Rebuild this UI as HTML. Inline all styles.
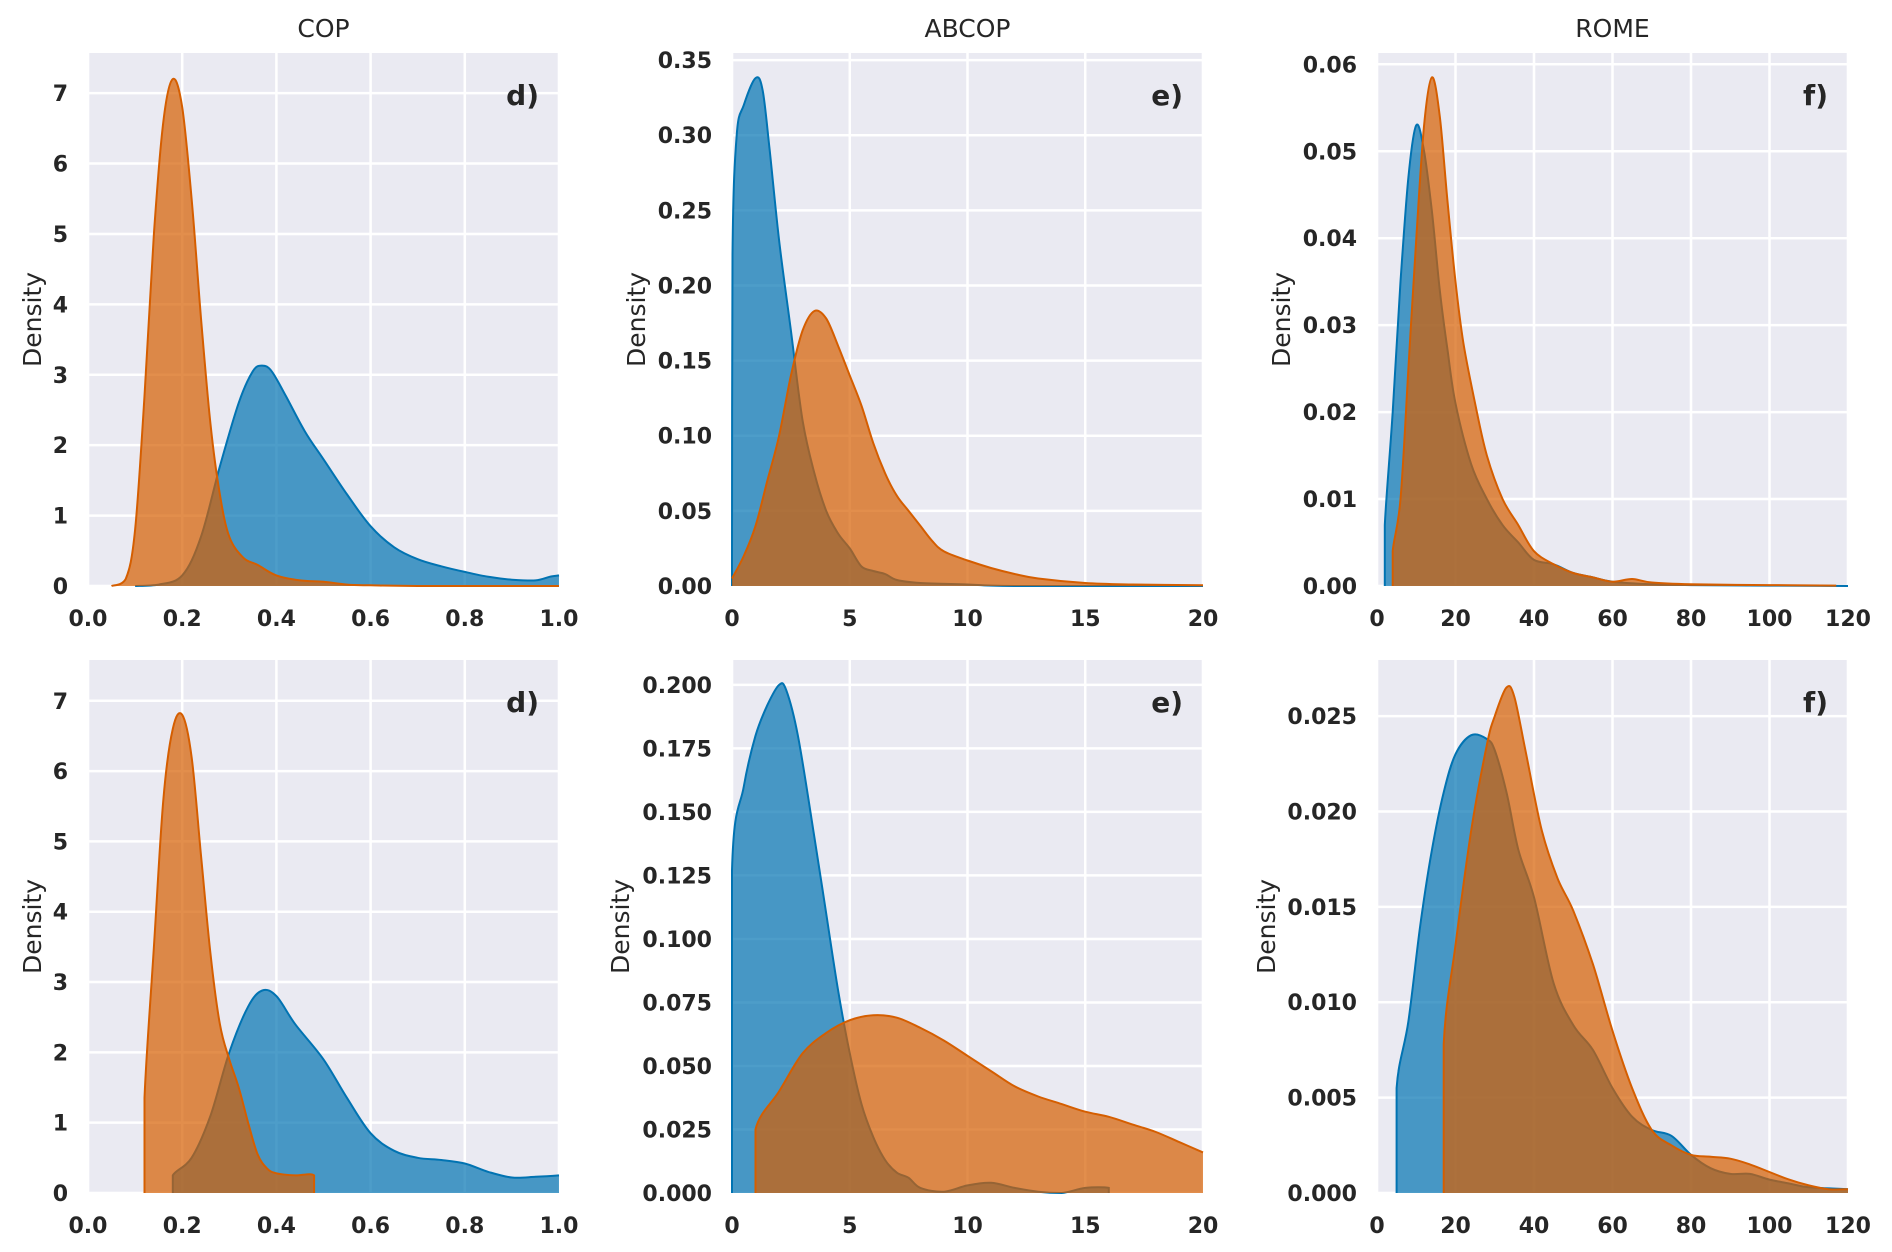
<!DOCTYPE html>
<html><head><meta charset="utf-8"><style>
html,body{margin:0;padding:0;background:#fff}
svg{display:block}
text{font-family:"DejaVu Sans","Liberation Sans",sans-serif;fill:#262626}
.tick{font-size:22px;font-weight:bold}
.ttl{font-size:25px}
.lab{font-size:28px;font-weight:bold}
</style></head><body>
<svg id="chart" width="1892" height="1252" viewBox="0 0 1892 1252" xmlns="http://www.w3.org/2000/svg"></svg>
<script>
// ---- data ----
const titles = ["COP","ABCOP","ROME"];
const letters = ["d)","e)","f)"];
const xTicksCOP = [0,0.2,0.4,0.6,0.8,1.0];
const xTicksABCOP = [0,5,10,15,20];
const xTicksROME = [0,20,40,60,80,100,120];
const yTicksA = [0,1,2,3,4,5,6,7];
const yTicksB = [0,0.05,0.10,0.15,0.20,0.25,0.30,0.35];
const yTicksC = [0,0.01,0.02,0.03,0.04,0.05,0.06];
const yTicksD = [0,1,2,3,4,5,6,7];
const yTicksE = [0,0.025,0.05,0.075,0.1,0.125,0.15,0.175,0.2];
const yTicksF = [0,0.005,0.01,0.015,0.02,0.025];

const blueA = [[0.1,0],[0.15,0.02],[0.2,0.15],[0.24,0.7],[0.28,1.7],[0.32,2.6],[0.35,3.05],[0.37,3.13],[0.39,3.05],[0.42,2.7],[0.46,2.2],[0.5,1.8],[0.55,1.3],[0.6,0.85],[0.65,0.55],[0.7,0.38],[0.75,0.28],[0.8,0.2],[0.85,0.13],[0.9,0.09],[0.95,0.08],[0.98,0.13],[1.0,0.15]];
const orangeA = [[0.05,0],[0.08,0.1],[0.1,0.8],[0.12,2.7],[0.14,5],[0.16,6.6],[0.18,7.2],[0.2,6.8],[0.22,5.5],[0.24,3.8],[0.26,2.3],[0.28,1.3],[0.3,0.7],[0.33,0.4],[0.36,0.3],[0.4,0.15],[0.45,0.08],[0.5,0.06],[0.55,0.02],[0.6,0.01],[0.7,0],[1.0,0]];
const blueB = [[0,0],[0.02,0.22],[0.2,0.3],[0.5,0.32],[1,0.338],[1.3,0.33],[1.6,0.29],[2,0.23],[2.5,0.17],[3,0.11],[3.5,0.075],[4,0.05],[4.5,0.035],[5,0.025],[5.5,0.013],[6,0.01],[6.5,0.008],[7,0.004],[8,0.002],[10,0.001],[12,0],[20,0]];
const orangeB = [[0,0.005],[0.5,0.02],[1,0.04],[1.5,0.07],[2,0.1],[2.5,0.14],[3,0.17],[3.5,0.183],[4,0.178],[4.5,0.16],[5,0.14],[5.5,0.12],[6,0.095],[6.5,0.075],[7,0.06],[7.5,0.05],[8,0.04],[8.5,0.03],[9,0.023],[10,0.017],[11,0.012],[12,0.008],[13,0.005],[15,0.002],[17,0.001],[20,0.0005]];
const blueC = [[2,0],[2,0.007],[4,0.02],[6,0.035],[8,0.047],[10,0.053],[12,0.05],[14,0.043],[16,0.034],[18,0.027],[20,0.021],[24,0.014],[28,0.01],[32,0.007],[36,0.005],[40,0.003],[45,0.0025],[50,0.0015],[55,0.001],[60,0.0005],[70,0.0002],[80,0.0001],[120,0]];
const orangeC = [[4,0],[4,0.004],[6,0.01],[8,0.025],[10,0.04],[12,0.053],[14,0.0585],[16,0.054],[18,0.044],[20,0.035],[22,0.028],[25,0.021],[28,0.015],[32,0.01],[36,0.007],[40,0.004],[45,0.0025],[50,0.0015],[55,0.001],[60,0.0005],[65,0.0008],[70,0.0004],[80,0.0002],[100,0.0001],[117,0.00005]];
const blueD = [[0.18,0],[0.18,0.25],[0.22,0.5],[0.26,1.1],[0.3,2.0],[0.34,2.65],[0.37,2.88],[0.4,2.8],[0.44,2.4],[0.5,1.9],[0.55,1.35],[0.6,0.85],[0.65,0.6],[0.7,0.5],[0.75,0.47],[0.8,0.42],[0.85,0.3],[0.9,0.22],[0.95,0.23],[1.0,0.25]];
const orangeD = [[0.12,0],[0.12,1.35],[0.14,3.5],[0.16,5.6],[0.18,6.6],[0.2,6.8],[0.22,6.2],[0.24,4.8],[0.26,3.4],[0.28,2.4],[0.3,1.9],[0.32,1.5],[0.34,1.0],[0.36,0.55],[0.38,0.35],[0.4,0.28],[0.44,0.25],[0.48,0.25],[0.48,0]];
const blueE = [[0,0],[0,0.127],[0.5,0.16],[1,0.18],[1.5,0.192],[2,0.2],[2.3,0.198],[2.8,0.18],[3.5,0.14],[4,0.11],[4.5,0.08],[5,0.055],[5.5,0.035],[6,0.022],[6.5,0.013],[7,0.008],[7.5,0.006],[8,0.002],[9,0.0005],[10,0.003],[11,0.004],[12,0.002],[13,0.0005],[14,0],[15,0.002],[16,0.002],[16,0]];
const orangeE = [[1,0],[1,0.025],[2,0.04],[3,0.055],[4,0.063],[5,0.068],[6,0.07],[7,0.069],[8,0.065],[9,0.06],[10,0.054],[11,0.048],[12,0.042],[13,0.038],[14,0.035],[15,0.032],[16,0.03],[17,0.027],[18,0.024],[19,0.02],[20,0.016]];
const blueF = [[5,0],[5,0.0055],[8,0.009],[11,0.014],[14,0.018],[17,0.021],[20,0.023],[24,0.024],[28,0.0238],[30,0.0232],[33,0.021],[36,0.018],[40,0.0155],[45,0.011],[50,0.0088],[55,0.0075],[60,0.0055],[65,0.004],[70,0.0033],[75,0.003],[80,0.002],[85,0.0013],[90,0.001],[95,0.001],[100,0.0007],[105,0.0005],[110,0.0003],[120,0.0002]];
const orangeF = [[17,0],[17,0.0078],[20,0.013],[24,0.019],[28,0.0235],[30,0.025],[33,0.0265],[35,0.026],[38,0.023],[42,0.019],[46,0.0165],[50,0.0148],[55,0.012],[60,0.0085],[65,0.0055],[70,0.0033],[75,0.0025],[80,0.002],[85,0.0019],[90,0.0018],[95,0.0015],[100,0.0011],[105,0.0007],[110,0.0004],[115,0.0002],[120,0.0002]];

const NS="http://www.w3.org/2000/svg";
const svg=document.getElementById('chart');
function mk(tag,attrs,parent){const e=document.createElementNS(NS,tag);for(const k in attrs)e.setAttribute(k,attrs[k]);(parent||svg).appendChild(e);return e;}
function smooth(pts,yb){
  let s='M'+pts[0][0].toFixed(1)+','+pts[0][1].toFixed(1);
  for(let i=0;i<pts.length-1;i++){
    const p0=pts[Math.max(0,i-1)],p1=pts[i],p2=pts[i+1],p3=pts[Math.min(pts.length-1,i+2)];
    let c1x=p1[0]+(p2[0]-p0[0])/6,c1y=p1[1]+(p2[1]-p0[1])/6;
    let c2x=p2[0]-(p3[0]-p1[0])/6,c2y=p2[1]-(p3[1]-p1[1])/6;
    if(p1[0]===p2[0]){c1x=p1[0];c2x=p2[0];c1y=p1[1];c2y=p2[1];}
    c1x=Math.max(Math.min(c1x,p2[0]),p1[0]);c2x=Math.max(Math.min(c2x,p2[0]),p1[0]);
    c1y=Math.min(c1y,yb);c2y=Math.min(c2y,yb);
    s+='C'+c1x.toFixed(1)+','+c1y.toFixed(1)+' '+c2x.toFixed(1)+','+c2y.toFixed(1)+' '+p2[0].toFixed(1)+','+p2[1].toFixed(1);
  }
  return s;
}

const colL=[88,732,1377], W=471;
const rowT=[53,660], H=533;
const panels=[
 {r:0,c:0,xmax:1,ymax:7.57,xt:xTicksCOP,yt:yTicksA,xd:1,yd:0,blue:blueA,orange:orangeA,dx:41},
 {r:0,c:1,xmax:20,ymax:0.3547,xt:xTicksABCOP,yt:yTicksB,xd:0,yd:2,blue:blueB,orange:orangeB,dx:645},
 {r:0,c:2,xmax:120,ymax:0.0613,xt:xTicksROME,yt:yTicksC,xd:0,yd:2,blue:blueC,orange:orangeC,dx:1290},
 {r:1,c:0,xmax:1,ymax:7.58,xt:xTicksCOP,yt:yTicksD,xd:1,yd:0,blue:blueD,orange:orangeD,dx:41},
 {r:1,c:1,xmax:20,ymax:0.2098,xt:xTicksABCOP,yt:yTicksE,xd:0,yd:3,blue:blueE,orange:orangeE,dx:629},
 {r:1,c:2,xmax:120,ymax:0.02794,xt:xTicksROME,yt:yTicksF,xd:0,yd:3,blue:blueF,orange:orangeF,dx:1275}
];
panels.forEach((p,i)=>{
  const L=colL[p.c], T=rowT[p.r];
  const xs=v=>L+v/p.xmax*W, ys=v=>T+H-v/p.ymax*H;
  const g=mk('g',{});
  
  
  const bg=mk('rect',{x:L,y:T,width:W,height:H,fill:'#eaeaf2'},g);
  
  
  p.xt.forEach(t=>{
    const gl=mk('line',{x1:xs(t),x2:xs(t),y1:T,y2:T+H,stroke:'#fff','stroke-width':2.5},g);
    
    
    const tx=mk('text',{x:xs(t),y:T+H+40,'text-anchor':'middle',class:'tick'},g);
    tx.textContent=t.toFixed(p.xd);
    
    
  });
  p.yt.forEach(t=>{
    const gl=mk('line',{x1:L,x2:L+W,y1:ys(t),y2:ys(t),stroke:'#fff','stroke-width':2.5},g);
    
    
    const tx=mk('text',{x:L-20,y:ys(t)+8,'text-anchor':'end',class:'tick'},g);
    tx.textContent=t.toFixed(p.yd);
    
    
  });
  [['blue',p.blue,'#0173b2'],['orange',p.orange,'#d55e00']].forEach(([nm,d,col])=>{
    const pts=d.map(q=>[xs(q[0]),ys(q[1])]);
    const line=smooth(pts,ys(0));
    const area=line+'L'+pts[pts.length-1][0].toFixed(1)+','+ys(0)+'L'+pts[0][0].toFixed(1)+','+ys(0)+'Z';
    const a=mk('path',{d:area,fill:col,'fill-opacity':0.7,stroke:'none'},g);
    
    
    const l=mk('path',{d:line,fill:'none',stroke:col,'stroke-width':2},g);
    
    
  });
  const lt=mk('text',{x:L+W-20,y:T+52,'text-anchor':'end',class:'lab'},g);
  lt.textContent=letters[p.c];
  
  
  const yl=mk('text',{x:p.dx,y:T+H/2,'text-anchor':'middle',class:'ttl',transform:'rotate(-90 '+p.dx+' '+(T+H/2)+')'},g);
  yl.textContent='Density';
  
  
  if(p.r===0){
    const tt=mk('text',{x:L+W/2,y:37,'text-anchor':'middle',class:'ttl'},g);
    tt.textContent=titles[p.c];
    
    
  }
});
</script>
</body></html>
